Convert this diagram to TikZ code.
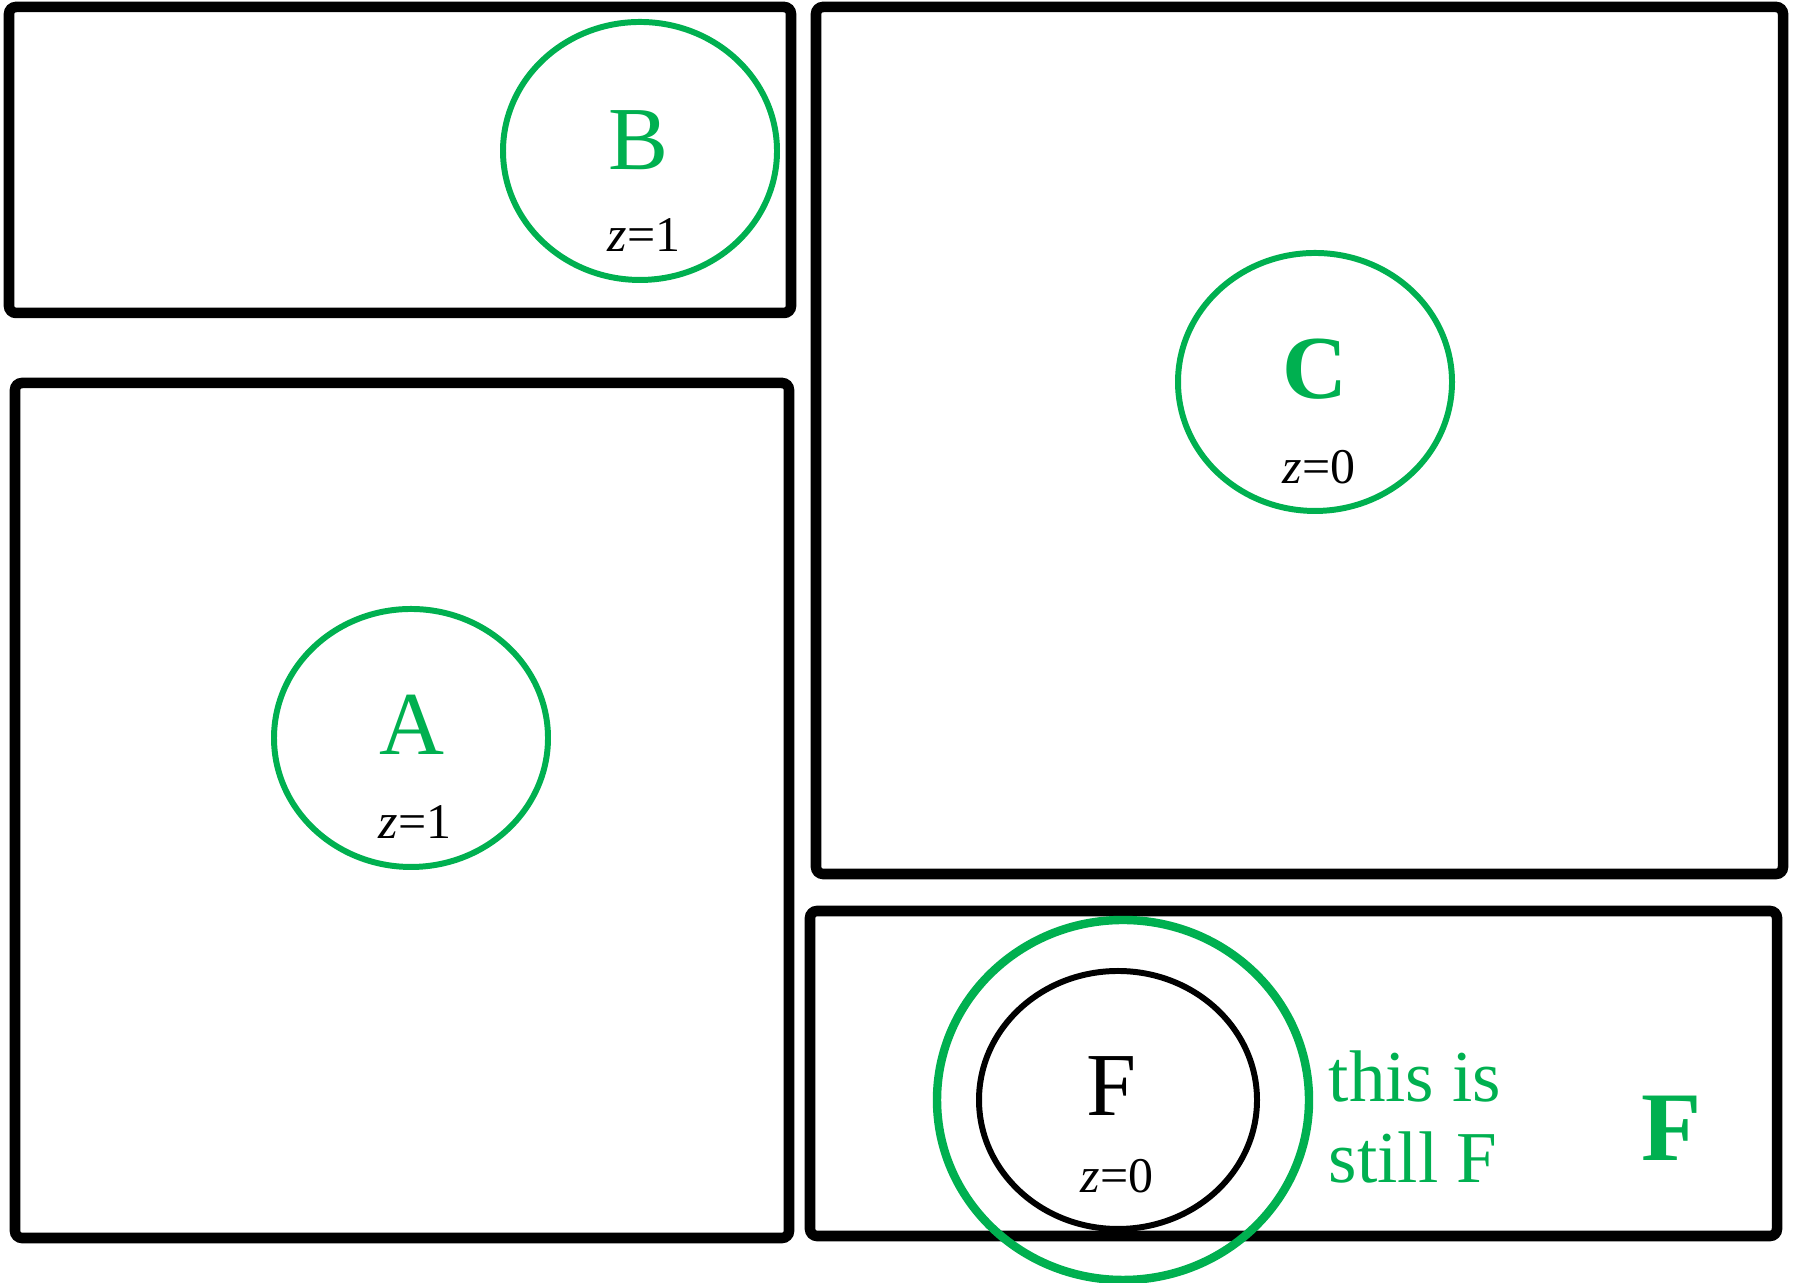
\documentclass[tikz,border=0pt]{standalone}
\usepackage{fontspec}
\setmainfont{Liberation Serif}
\definecolor{figgreen}{RGB}{0,176,80}
\usetikzlibrary{shapes.geometric}

\begin{document}
\begin{tikzpicture}
  \useasboundingbox (0,0) rectangle (17.96,12.83);
  \tikzset{
    frame/.style={draw=black, line width=3pt, rounded corners=2pt},
    zone/.style={ellipse, draw=figgreen, line width=1.7pt, inner sep=0pt, minimum width=2.74cm, minimum height=2.58cm},
    letter/.style={font=\fontsize{25.6}{30}\selectfont, text=figgreen},
    zlabel/.style={font=\fontsize{14.2}{17}\selectfont}
  }

  %--- Frames ---
  \draw[frame] (0.09,12.76) rectangle (7.91,9.70);
  \draw[frame] (0.15,9.00) rectangle (7.89,0.45);
  \draw[frame] (8.16,12.76) rectangle (17.83,4.09);
  \draw[frame] (8.10,3.72) rectangle (17.77,0.47);

  % B
  \node[zone] (circB) at (6.40,11.32) {};
  \node[letter] (B) at (6.38,11.43) {B};
  \node[zlabel] (zB) at (6.44,10.48) {\textit{z}=1};

  % A
  \node[zone] (circA) at (4.11,5.45) {};
  \node[letter] (A) at (4.12,5.58) {A};
  \node[zlabel] (zA) at (4.15,4.61) {\textit{z}=1};

  % C
  \node[zone] (circC) at (13.15,9.01) {};
  \node[letter, font=\fontsize{25.6}{30}\selectfont\bfseries] (C) at (13.15,9.14) {C};
  \node[zlabel] (zC) at (13.19,8.16) {\textit{z}=0};

  % F
  \node[zone, draw=black, minimum width=2.78cm] (circF) at (11.18,1.83) {};
  \node[zone, line width=2.4pt, minimum width=3.72cm, minimum height=3.60cm] (outerF) at (11.23,1.83) {};
  \node[letter, text=black] (F) at (11.12,1.97) {F};
  \node[zlabel] (zF) at (11.17,1.07) {\textit{z}=0};
  \node[font=\fontsize{20.8}{23.3}\selectfont, text=figgreen, align=left] (still) at (14.15,1.66) {this is\\still F};
  \node[font=\fontsize{28}{32}\selectfont\bfseries, text=figgreen] (Fbold) at (16.72,1.55) {F};
\end{tikzpicture}
\end{document}
